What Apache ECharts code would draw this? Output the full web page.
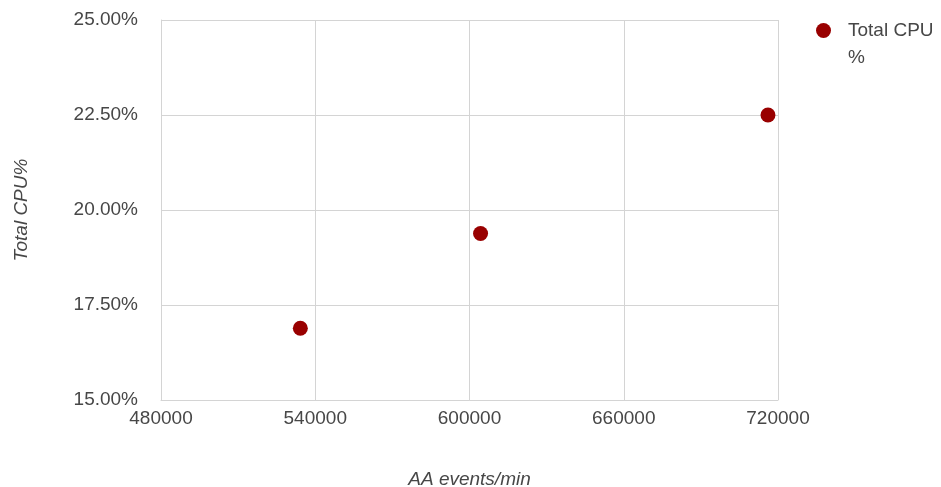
<!DOCTYPE html>
<html>
<head>
<meta charset="utf-8">
<script src="https://cdn.jsdelivr.net/npm/echarts@6/dist/echarts.min.js"></script>
<style>
  html, body { margin: 0; padding: 0; background: #fff; }
  #chart { width: 941px; height: 487px; }
</style>
</head>
<body>
<div id="chart"></div>
<script>
// data
const eventsPerMin = [534200, 604300, 716100];
const cpuPercent = [16.89, 19.38, 22.50];
const seriesName = "Total CPU %";

const chart = echarts.init(document.getElementById("chart"));
const textColor = "#474747";
const gridColor = "#d4d4d4";
const font = "Liberation Sans, Arial, sans-serif";
const fs = 19;

chart.setOption({
  animation: false,
  textStyle: { fontFamily: font },
  grid: { left: 161, right: 163, top: 20, bottom: 87, containLabel: false, outerBoundsMode: "none" },
  // legend holds the first line, title carries the wrapped "%"
  legend: {
    left: 811, top: 16,
    icon: "circle",
    itemWidth: 15, itemHeight: 15, itemGap: 10,
    formatter: () => "Total CPU",
    textStyle: { color: textColor, fontSize: fs, fontFamily: font, padding: [0, 0, 0, 12] },
    data: [seriesName]
  },
  title: {
    text: "%",
    left: 848, top: 48, padding: 0,
    textStyle: { color: textColor, fontSize: fs, fontWeight: "normal", fontFamily: font }
  },
  xAxis: {
    type: "value",
    min: 480000, max: 720000, interval: 60000,
    name: "AA events/min",
    nameLocation: "middle",
    nameGap: 70,
    nameTextStyle: { color: textColor, fontStyle: "italic", fontSize: fs, fontFamily: font },
    axisLine: { show: true, lineStyle: { color: gridColor } },
    axisTick: { show: false },
    axisLabel: { color: textColor, fontSize: fs, margin: 9, fontFamily: font, formatter: v => String(v) },
    splitLine: { show: true, lineStyle: { color: gridColor, width: 1 } }
  },
  yAxis: {
    type: "value",
    min: 15, max: 25, interval: 2.5,
    name: "Total CPU%",
    nameLocation: "middle",
    nameGap: 130,
    nameTextStyle: { color: textColor, fontStyle: "italic", fontSize: fs, fontFamily: font },
    axisLine: { show: true, lineStyle: { color: gridColor } },
    axisTick: { show: false },
    axisLabel: { color: textColor, fontSize: fs, margin: 23, fontFamily: font, formatter: v => v.toFixed(2) + "%" },
    splitLine: { show: true, lineStyle: { color: gridColor, width: 1 } }
  },
  series: [{
    name: seriesName,
    type: "scatter",
    symbol: "circle",
    symbolSize: 15,
    itemStyle: { color: "#990000", opacity: 1 },
    data: eventsPerMin.map((x, i) => [x, cpuPercent[i]])
  }]
});
</script>
</body>
</html>
